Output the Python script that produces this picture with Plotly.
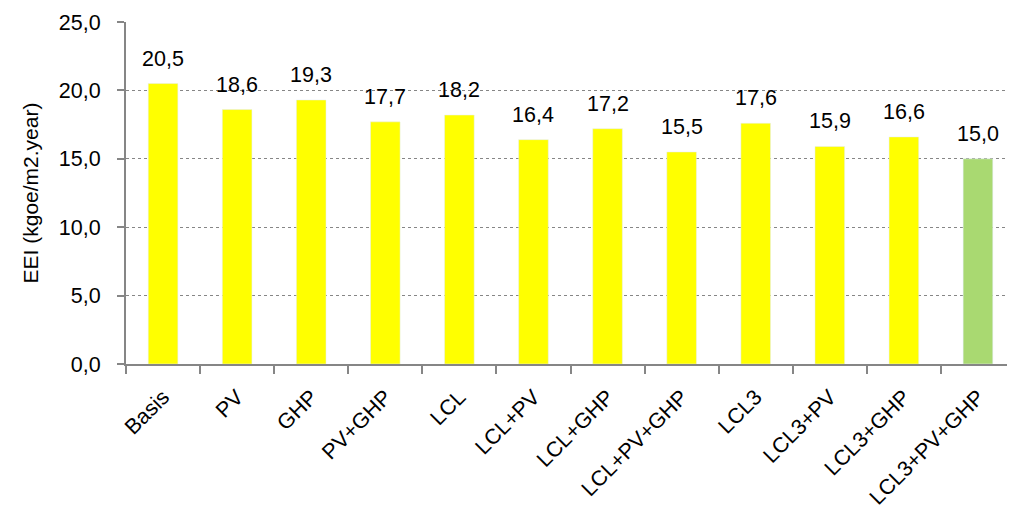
import plotly.graph_objects as go

categories = ["Basis", "PV", "GHP", "PV+GHP", "LCL", "LCL+PV", "LCL+GHP",
              "LCL+PV+GHP", "LCL3", "LCL3+PV", "LCL3+GHP", "LCL3+PV+GHP"]
values = [20.5, 18.6, 19.3, 17.7, 18.2, 16.4, 17.2, 15.5, 17.6, 15.9, 16.6, 15.0]
colors = ["#FFFF00"] * 11 + ["#A9D971"]

font_family = "Liberation Sans, Arial, sans-serif"

fig = go.Figure(go.Bar(
    x=categories, y=values, marker_color=colors, width=0.4,
    cliponaxis=False,
))

for c, v in zip(categories, values):
    fig.add_annotation(
        x=c, y=v, text=f"{v:.1f}".replace(".", ","), showarrow=False,
        yanchor="bottom", yshift=11,
        font=dict(size=21.5, color="#000000", family=font_family),
    )

fig.update_layout(
    width=1007, height=503,
    margin=dict(l=118, r=0, t=14, b=147),
    paper_bgcolor="white", plot_bgcolor="white",
    separators=", ",
    font=dict(family=font_family, size=21.5, color="#000000"),
    showlegend=False,
)
fig.update_yaxes(
    range=[0, 25], dtick=5, tickformat=".1f", automargin=False,
    showgrid=True, gridcolor="#868686", griddash="dot", gridwidth=1,
    showline=True, linecolor="#868686", linewidth=2,
    ticks="outside", ticklen=7, tickcolor="#868686", tickwidth=2,
    ticklabelstandoff=12,
    tickfont=dict(size=21.5), zeroline=False,
    title=dict(text="EEI (kgoe/m2.year)", font=dict(size=21), standoff=14),
)
fig.update_xaxes(
    showline=True, linecolor="#868686", linewidth=2, automargin=False,
    ticks="outside", ticklen=8, tickcolor="#868686", tickwidth=2,
    tickson="boundaries", tickangle=-45, ticklabelstandoff=10,
    tickfont=dict(size=21.5), showgrid=False,
)

fig.write_html("out.html")
